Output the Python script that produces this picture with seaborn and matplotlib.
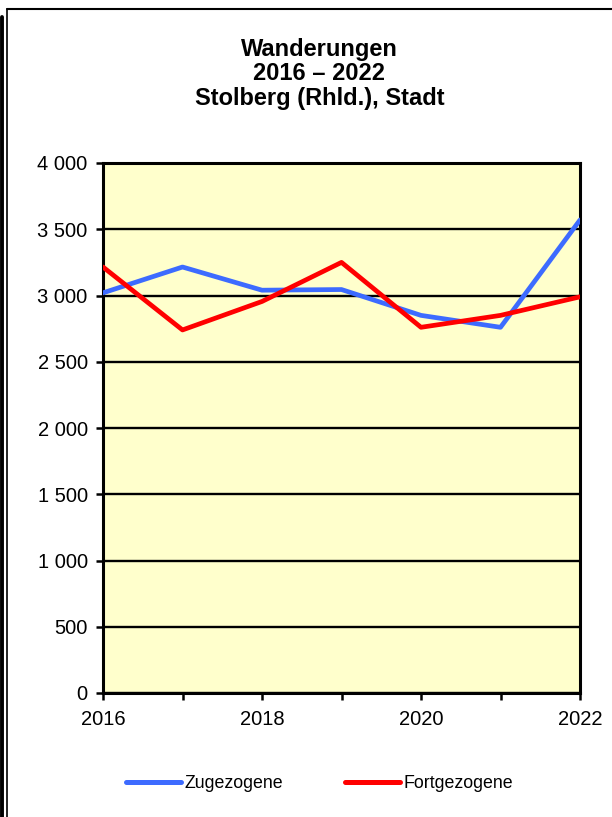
import pandas as pd
import matplotlib.pyplot as plt
from matplotlib.lines import Line2D
import seaborn as sns

# data
YEARS = [2016, 2017, 2018, 2019, 2020, 2021, 2022]
ZUGEZOGENE = [3020, 3215, 3040, 3045, 2850, 2760, 3570]
FORTGEZOGENE = [3215, 2740, 2955, 3250, 2760, 2850, 2990]
SERIES = ["Zugezogene", "Fortgezogene"]
COLORS = ["#3D6BFF", "#FF0000"]
Y_TICKS = list(range(0, 4001, 500))
TITLE = "Wanderungen\n2016 \u2013 2022\nStolberg (Rhld.), Stadt"


def fmt(v):
    return f"{v:,}".replace(",", " ")


def main():
    df = pd.DataFrame({
        "Jahr": YEARS * 2,
        "Wert": ZUGEZOGENE + FORTGEZOGENE,
        "Art": [SERIES[0]] * len(YEARS) + [SERIES[1]] * len(YEARS),
    })

    sns.set_style("white")
    plt.rcParams["font.family"] = ["Liberation Sans", "DejaVu Sans"]
    plt.rcParams["text.color"] = "black"
    plt.rcParams["xtick.color"] = "black"
    plt.rcParams["ytick.color"] = "black"

    fig = plt.figure(figsize=(6.12, 8.17), dpi=100)
    ax = fig.add_axes([103 / 612, 1 - 693 / 817, 477 / 612, 530 / 817])
    ax.set_facecolor("#FFFFCC")

    sns.lineplot(data=df, x="Jahr", y="Wert", hue="Art", hue_order=SERIES,
                 palette=COLORS, linewidth=3.4, ax=ax, legend=False,
                 zorder=3)

    ax.set_xlim(YEARS[0], YEARS[-1])
    ax.set_ylim(0, 4000)
    ax.set_yticks(Y_TICKS)
    ax.set_yticklabels([fmt(v) for v in Y_TICKS], fontsize=14.5)
    ax.set_xticks(YEARS)
    ax.set_xticklabels([str(y) if y % 2 == 0 else "" for y in YEARS],
                       fontsize=14.5)
    ax.set_xlabel("")
    ax.set_ylabel("")
    ax.tick_params(axis="both", direction="out", length=5, width=1.8,
                   color="black", labelcolor="black",
                   left=True, bottom=True)
    ax.tick_params(axis="x", pad=7)
    ax.tick_params(axis="y", pad=6)
    ax.grid(axis="y", color="black", linewidth=1.7, zorder=1)
    ax.set_axisbelow(True)
    for sp in ax.spines.values():
        sp.set_visible(True)
        sp.set_color("black")
        sp.set_linewidth(2.2)

    fig.text(0.522, 1 - 74 / 817, TITLE, ha="center", va="center",
             fontsize=17, fontweight="bold", linespacing=1.1, color="black")

    handles = [Line2D([], [], color=c, linewidth=3.6, solid_capstyle="round")
               for c in COLORS]
    fig.legend(handles, SERIES, loc="center", ncol=2,
               bbox_to_anchor=(0.522, 1 - 784 / 817), frameon=False,
               fontsize=12.8, handlelength=3.1, handletextpad=0.2,
               columnspacing=3.5)

    # outer frame
    fig.add_artist(Line2D([6.5 / 612, 6.5 / 612], [0, 1 - 9 / 817],
                          transform=fig.transFigure, color="black", lw=1.2))
    fig.add_artist(Line2D([6.5 / 612, 1], [1 - 9 / 817, 1 - 9 / 817],
                          transform=fig.transFigure, color="black", lw=1.5))
    fig.add_artist(Line2D([1.5 / 612, 1.5 / 612], [0, 1 - 17 / 817],
                          transform=fig.transFigure, color="black", lw=2.8))

    fig.savefig("out.png", dpi=100)
    plt.close(fig)


if __name__ == "__main__":
    main()
